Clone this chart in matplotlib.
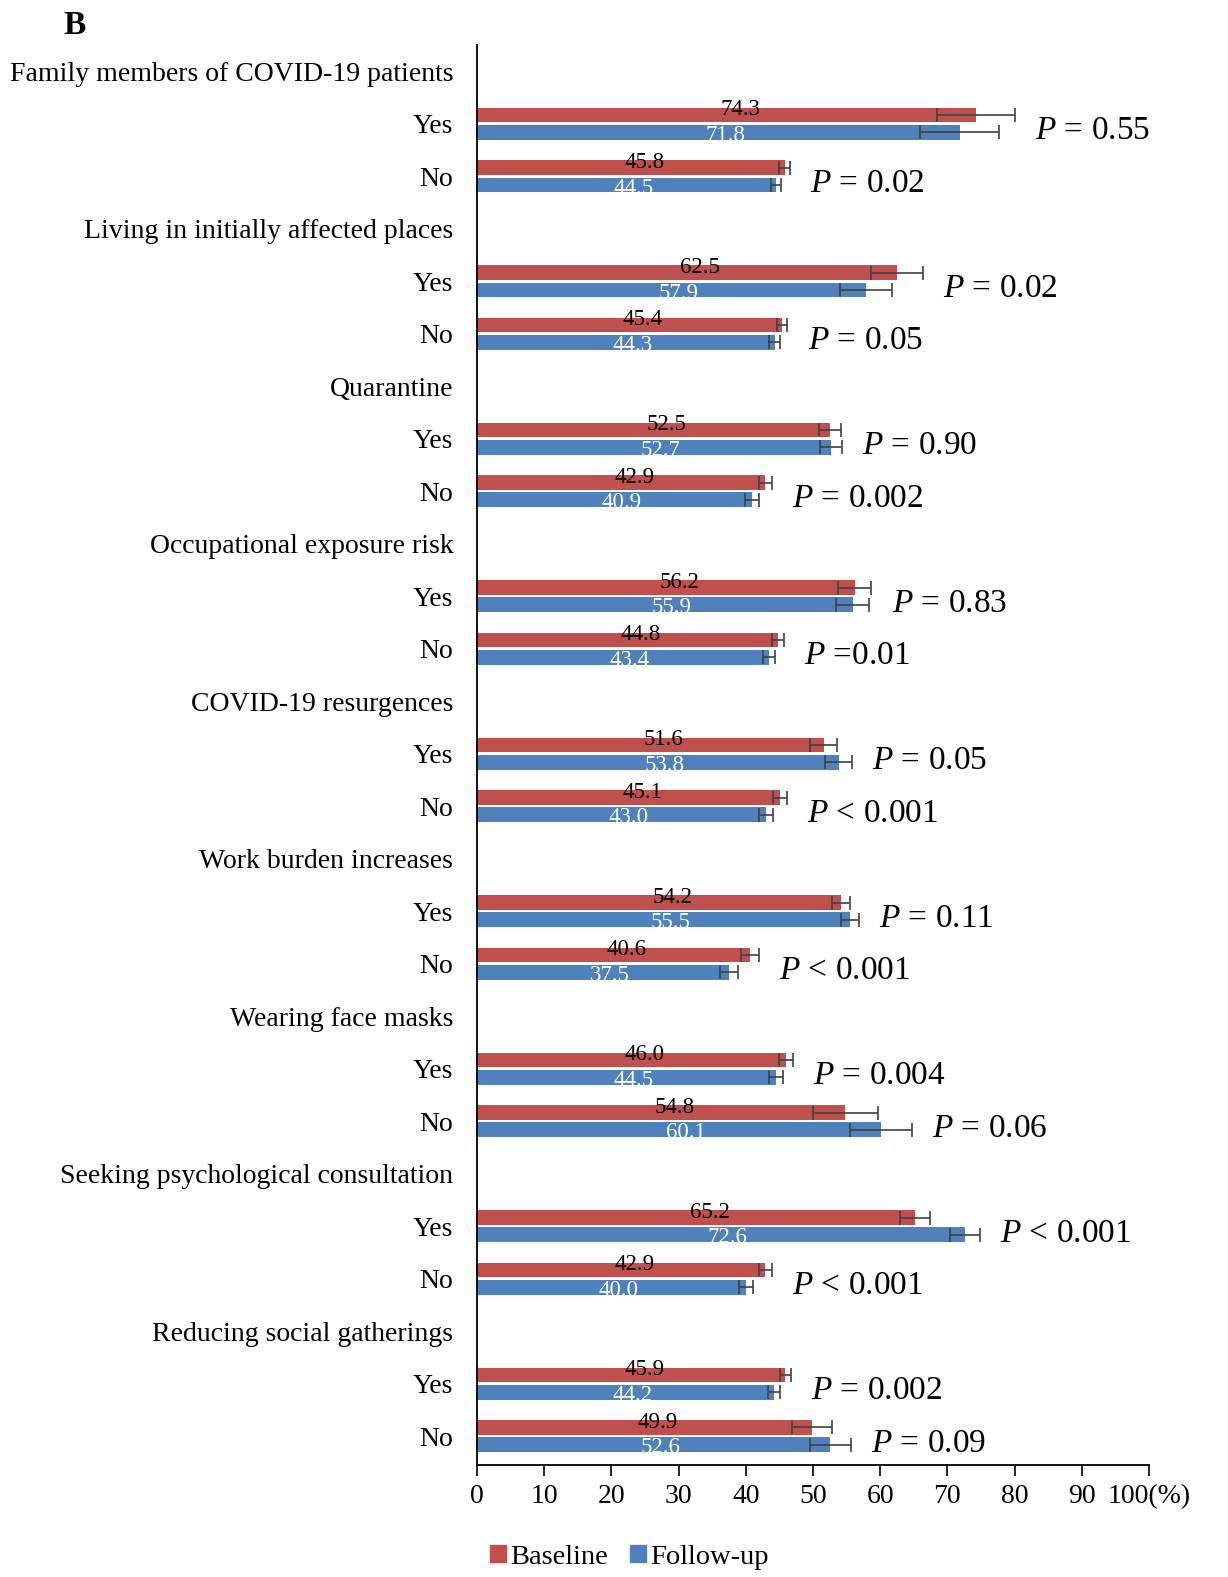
import numpy as np
import matplotlib
matplotlib.use('Agg')
import matplotlib.pyplot as plt
from matplotlib.patches import Patch

plt.rcParams['font.family'] = 'Liberation Serif'
plt.rcParams['mathtext.fontset'] = 'custom'
plt.rcParams['mathtext.rm'] = 'Liberation Serif'
plt.rcParams['mathtext.it'] = 'Liberation Serif:italic'

groups = ['Family members of COVID-19 patients', 'Living in initially affected places',
          'Quarantine', 'Occupational exposure risk', 'COVID-19 resurgences',
          'Work burden increases', 'Wearing face masks',
          'Seeking psychological consultation', 'Reducing social gatherings']
answers = ['Yes', 'No']

# rows ordered group by group: Yes, No
baseline = [74.3, 45.8, 62.5, 45.4, 52.5, 42.9, 56.2, 44.8, 51.6, 45.1,
            54.2, 40.6, 46.0, 54.8, 65.2, 42.9, 45.9, 49.9]
followup = [71.8, 44.5, 57.9, 44.3, 52.7, 40.9, 55.9, 43.4, 53.8, 43.0,
            55.5, 37.5, 44.5, 60.1, 72.6, 40.0, 44.2, 52.6]
baseline_err = [5.8, 0.8, 3.9, 0.8, 1.6, 1.0, 2.5, 0.9, 2.0, 1.0,
                1.3, 1.3, 1.0, 4.8, 2.2, 1.0, 0.8, 3.0]
followup_err = [5.9, 0.8, 3.9, 0.8, 1.6, 1.0, 2.5, 0.9, 2.0, 1.0,
                1.3, 1.3, 1.0, 4.6, 2.2, 1.0, 0.9, 3.0]
p_labels = ['= 0.55', '= 0.02', '= 0.02', '= 0.05', '= 0.90', '= 0.002',
            '= 0.83', '=0.01', '= 0.05', '< 0.001', '= 0.11', '< 0.001',
            '= 0.004', '= 0.06', '< 0.001', '< 0.001', '= 0.002', '= 0.09']
xticks = [0, 10, 20, 30, 40, 50, 60, 70, 80, 90, 100]
xticklabels = ['0', '10', '20', '30', '40', '50', '60', '70', '80', '90', '100(%)']

red = '#C0504D'
blue = '#4F81BD'

fig = plt.figure(figsize=(12.28, 15.77), dpi=100)
ax = fig.add_axes([0.3884, 0.0710, 0.5473, 0.9005])

# row positions: header, Yes, No for each group
tick_pos = []
tick_lab = []
ypos = []
for g, name in enumerate(groups):
    tick_pos.append(g * 3)
    tick_lab.append(name)
    for a, ans in enumerate(answers):
        tick_pos.append(g * 3 + 1 + a)
        tick_lab.append(ans)
        ypos.append(g * 3 + 1 + a)
ypos = np.array(ypos)

h = 0.28
off = 0.165
bars_r = ax.barh(ypos - off, baseline, height=h, color=red, xerr=baseline_err,
                 error_kw=dict(ecolor='#404040', elinewidth=1.2, capsize=5, capthick=1.2))
bars_b = ax.barh(ypos + off, followup, height=h, color=blue, xerr=followup_err,
                 error_kw=dict(ecolor='#404040', elinewidth=1.2, capsize=5, capthick=1.2))

for i in range(len(ypos)):
    ax.text(baseline[i] / 2 + 2, ypos[i] - off - 0.1, f'{baseline[i]:.1f}', ha='center',
            va='center', fontsize=16.5, color='black')
    t = ax.text(followup[i] / 2 + 1, ypos[i] + off + 0.06, f'{followup[i]:.1f}', ha='center',
                va='center', fontsize=16.5, color='white')
    t.set_clip_path(bars_b[i])
    xend = max(baseline[i] + baseline_err[i], followup[i] + followup_err[i])
    ax.text(xend + 3, ypos[i] + 0.14, r'$P$ ' + p_labels[i], ha='left', va='center',
            fontsize=24)

ax.set_ylim(26.55, -0.5)
ax.set_xlim(0, 100)
ax.set_yticks(tick_pos)
ax.set_yticklabels(tick_lab, fontsize=20)
ax.tick_params(axis='y', length=0, pad=17)
ax.set_xticks(xticks)
ax.set_xticklabels(xticklabels, fontsize=20)
ax.tick_params(axis='x', direction='out', length=8, width=1.2, pad=6)
ax.spines['top'].set_visible(False)
ax.spines['right'].set_visible(False)
ax.spines['left'].set_linewidth(1.3)
ax.spines['bottom'].set_linewidth(1.3)

fig.text(75 / 1228, 1 - 25 / 1577, 'B', fontsize=24, fontweight='bold', ha='center', va='center')

handles = [Patch(color=red, label='Baseline'), Patch(color=blue, label='Follow-up')]
fig.legend(handles=handles, loc='center left', bbox_to_anchor=(490 / 1228, 1 - 1557 / 1577),
           ncol=2, frameon=False, fontsize=20.5, handlelength=0.55, handleheight=0.55,
           handletextpad=0.15, columnspacing=0.8, borderpad=0, borderaxespad=0)

fig.savefig('out.png', dpi=100)
